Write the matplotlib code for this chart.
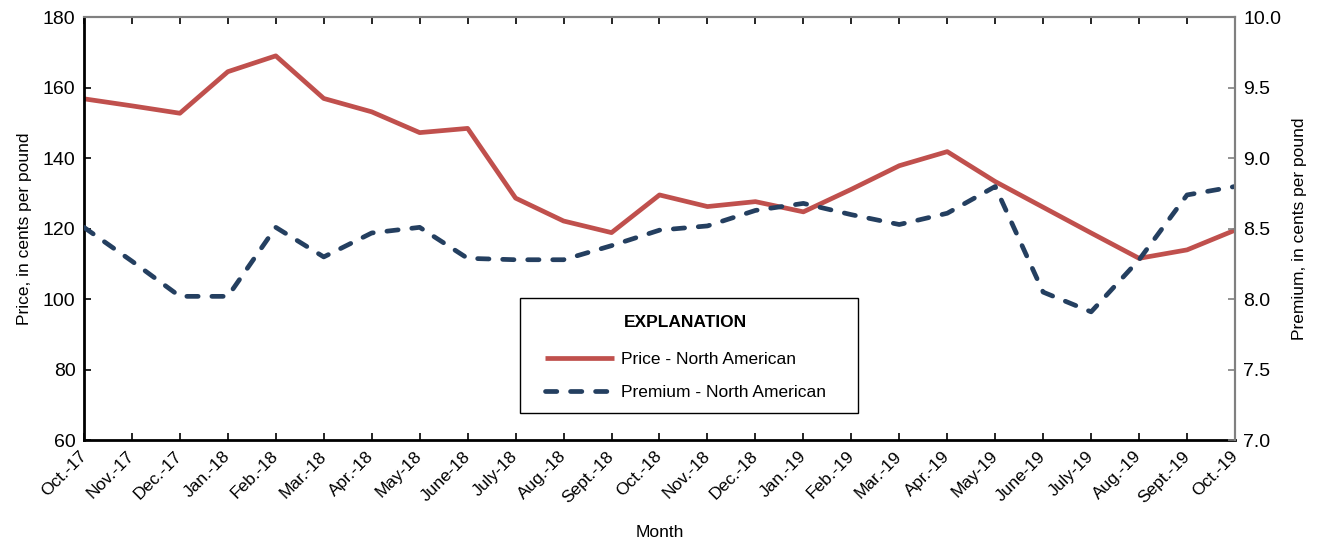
import matplotlib.pyplot as plt
from matplotlib.patches import Rectangle

months = ["Oct.-17", "Nov.-17", "Dec.-17", "Jan.-18", "Feb.-18", "Mar.-18", "Apr.-18",
          "May-18", "June-18", "July-18", "Aug.-18", "Sept.-18", "Oct.-18", "Nov.-18",
          "Dec.-18", "Jan.-19", "Feb.-19", "Mar.-19", "Apr.-19", "May-19", "June-19",
          "July-19", "Aug.-19", "Sept.-19", "Oct.-19"]

price = [156.9, 154.9, 152.8, 164.6, 169.1, 157.0, 153.2, 147.3, 148.5, 128.7, 122.2,
         118.9, 129.6, 126.3, 127.7, 124.8, 131.2, 137.9, 141.9, 133.4, 126.1, 118.8,
         111.6, 114.0, 119.6]

premium = [8.51, 8.27, 8.02, 8.02, 8.51, 8.30, 8.47, 8.51, 8.29, 8.28, 8.28, 8.38,
           8.49, 8.52, 8.63, 8.68, 8.60, 8.53, 8.61, 8.80, 8.05, 7.91, 8.28, 8.74, 8.80]

font = ["Liberation Sans", "DejaVu Sans"]

red = "#C0504D"
navy = "#243F60"

fig = plt.figure(figsize=(13.22, 5.46), dpi=100)
ax = fig.add_axes([0.0635, 0.1941, 0.8707, 0.7739])
ax2 = ax.twinx()

x = list(range(len(months)))
l1, = ax.plot(x, price, color=red, lw=3.4, solid_capstyle="butt",
              label="Price - North American")
l2, = ax2.plot(x, premium, color=navy, lw=3.4, dashes=(2.4, 2.9),
               dash_capstyle="round", label="Premium - North American")

ax.set_xlim(0, len(months) - 1)
ax.set_ylim(60, 180)
ax.set_yticks(range(60, 181, 20))
ax2.set_ylim(7.0, 10.0)
ax2.set_yticks([7.0, 7.5, 8.0, 8.5, 9.0, 9.5, 10.0])
ax2.set_yticklabels([f"{v:.1f}" for v in ax2.get_yticks()])

ax.set_xticks(x)
ax.set_xticklabels(months, rotation=45, ha="right", va="center",
                   rotation_mode="anchor", family=font, fontsize=12.5)
ax.tick_params(axis="x", direction="in", length=5, width=1.2, color="black",
               top=True, pad=10)
ax.tick_params(axis="y", direction="in", length=5, width=1.2, color="black", pad=6)
ax2.tick_params(axis="y", direction="in", length=5, width=1.2, color="#808080", pad=6)
for lab in ax.get_yticklabels() + ax2.get_yticklabels():
    lab.set_family(font)
    lab.set_fontsize(14)

for side in ["left", "bottom"]:
    ax.spines[side].set_linewidth(2)
    ax.spines[side].set_color("black")
for side in ["top", "right"]:
    ax.spines[side].set_color("#808080")
    ax.spines[side].set_linewidth(1.5)
    ax2.spines[side].set_color("#808080")
    ax2.spines[side].set_linewidth(1.5)
ax2.spines["left"].set_visible(False)
ax2.spines["bottom"].set_visible(False)

ax.set_ylabel("Price, in cents per pound", family=font, fontsize=12.5, labelpad=8)
ax2.set_ylabel("Premium, in cents per pound", family=font, fontsize=12.5, labelpad=8)
ax.set_xlabel("Month", family=font, fontsize=12.5, labelpad=14)

# explanation box
box = Rectangle((520 / 1322, 1 - 413 / 546), 338 / 1322, 115 / 546,
                transform=fig.transFigure, facecolor="white", edgecolor="black",
                lw=1.0, zorder=4)
ax2.add_patch(box)

leg = ax2.legend(handles=[l1, l2], title="EXPLANATION", loc="upper left",
                 bbox_to_anchor=(545 / 1322, 1 - 315 / 546),
                 bbox_transform=fig.transFigure, frameon=False,
                 handlelength=4.0, handletextpad=0.4,
                 borderpad=0, labelspacing=1.05, borderaxespad=0,
                 prop={"family": font, "size": 12.5},
                 title_fontproperties={"family": font, "size": 12.5, "weight": "bold"})
leg.set_zorder(5)
leg._legend_box.sep = 15.5

fig.savefig("out.png", dpi=100)
